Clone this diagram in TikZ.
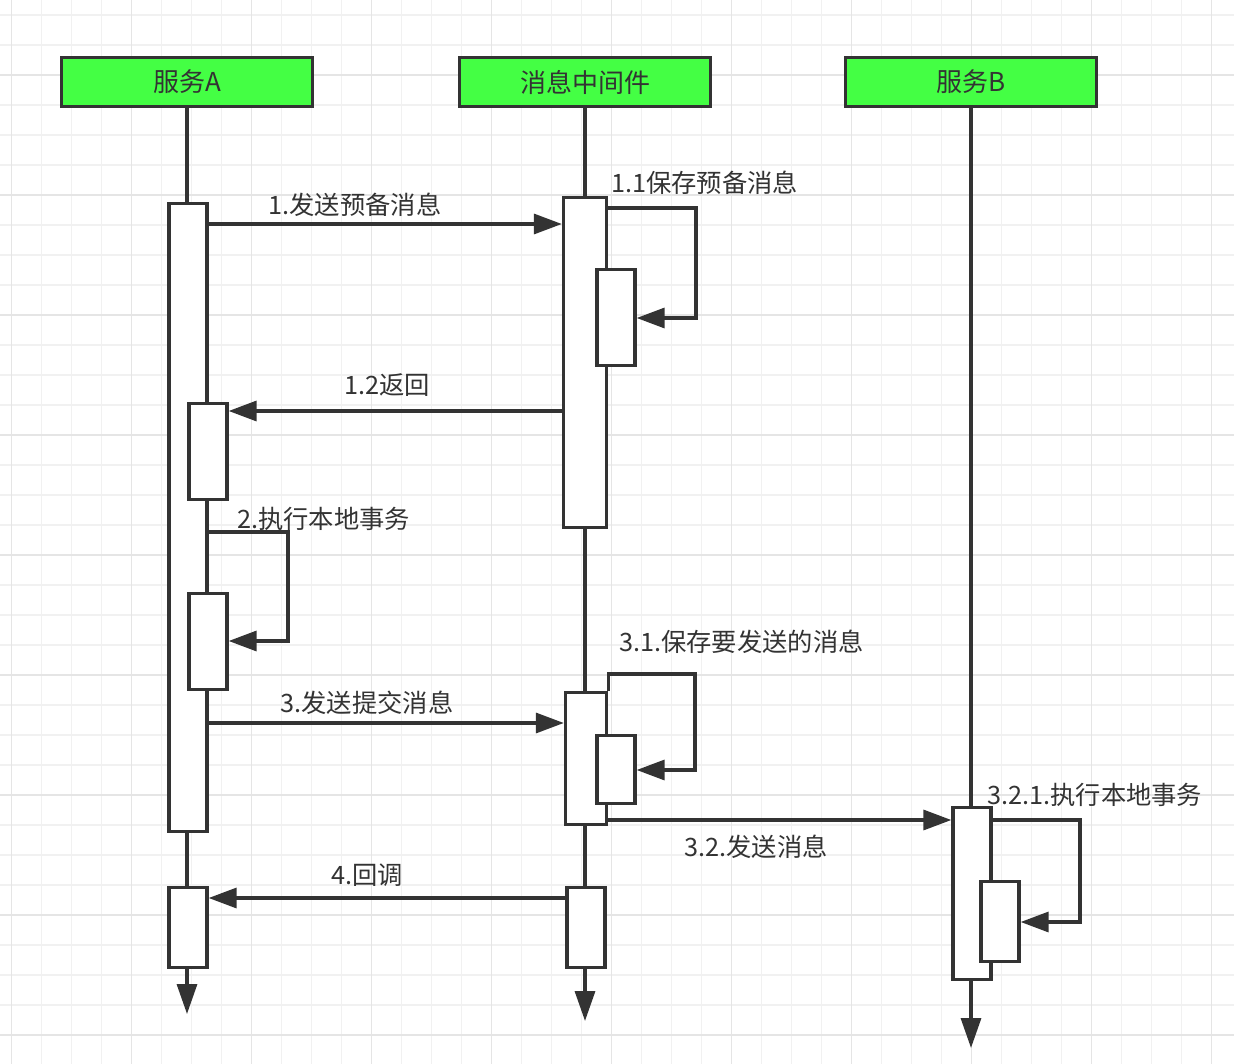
\documentclass[tikz,border=0pt]{standalone}
\usepackage{fontspec}
\newfontfamily\cjk{Noto Sans CJK SC}
\usetikzlibrary{arrows.meta}
\definecolor{ink}{HTML}{333333}
\definecolor{hdr}{HTML}{44FF44}
\definecolor{gridminor}{HTML}{F1F1F1}
\definecolor{gridmajor}{HTML}{E5E5E5}
\begin{document}
\begin{tikzpicture}[x=1pt,y=-1pt,
 hdrbox/.style={draw=ink, line width=3.5pt, fill=hdr, minimum width=251pt, minimum height=49pt, inner sep=0pt, font=\cjk\fontsize{26}{30}\selectfont, text=ink},
 act/.style={draw=ink, line width=3.3pt, fill=white, inner sep=0pt, minimum width=38pt},
 life/.style={draw=ink, line width=3.3pt, -{Triangle[length=30pt,width=20pt]}},
 msg/.style={draw=ink, line width=3.3pt, line join=miter, -{Triangle[length=28pt,width=20pt]}},
 lbl/.style={font=\cjk\fontsize{25.3}{30}\selectfont, text=ink, inner sep=0pt}
]
\fill[white] (0,0) rectangle (1234,1064);
\useasboundingbox (0,0) rectangle (1234,1064);
% grid
\foreach \x in {11.7,41.7,...,1234} \draw[gridminor, line width=1.5pt] (\x,0) -- (\x,1064);
\foreach \y in {15,45,...,1064} \draw[gridminor, line width=1.5pt] (0,\y) -- (1234,\y);
\foreach \x in {11.7,131.7,...,1234} \draw[gridmajor, line width=1.5pt] (\x,0) -- (\x,1064);
\foreach \y in {75,195,...,1064} \draw[gridmajor, line width=1.5pt] (0,\y) -- (1234,\y);

% headers
\node[hdrbox] (hA) at (187,82) {服务A};
\node[hdrbox] (hM) at (585,82) {消息中间件};
\node[hdrbox] (hB) at (971,82) {服务B};

% lifelines
\coordinate (eA) at (187,1014);
\coordinate (eM) at (585,1021);
\coordinate (eB) at (971,1048);
\draw[life] (hA.south) -- (eA);
\draw[life] (hM.south) -- (eM);
\draw[life] (hB.south) -- (eB);

% activation boxes
\node[act, minimum height=628pt] (A1) at (188,517.5) {};
\node[act, minimum height=96pt] (A2) at (208,451.5) {};
\node[act, minimum height=96pt] (A3) at (208,641.5) {};
\node[act, minimum height=80pt] (A4) at (188,927.5) {};
\node[act, minimum width=43pt, minimum height=330pt] (M1) at (585,362.5) {};
\node[act, minimum height=96pt] (M2) at (616,317.5) {};
\node[act, minimum width=41pt, minimum height=132pt] (M3) at (586,758.5) {};
\node[act, minimum height=68pt] (M4) at (616,769.5) {};
\node[act, minimum height=80pt] (M5) at (586,927.5) {};
\node[act, minimum height=172pt] (B1) at (972,893.5) {};
\node[act, minimum height=80pt] (B2) at (1000,921.5) {};

% messages
\draw[msg] (A1.east |- 0,224) -- (M1.west |- 0,224);
\draw[msg] (M1.east |- 0,208) -- (696,208) -- (696,318) -- (M2.east |- 0,318);
\draw[msg] (M1.west |- 0,411) -- (A2.east |- 0,411);
\draw[msg] (A1.east |- 0,532) -- (288,532) -- (288,641) -- (A3.east |- 0,641);
\draw[msg] (A1.east |- 0,723) -- (M3.west |- 0,723);
\draw[msg] (M3.north east) -- (M3.east |- 0,674) -- (695,674) -- (695,770) -- (M4.east |- 0,770);
\draw[msg] (M3.east |- 0,820) -- (B1.west |- 0,820);
\draw[msg] (B1.east |- 0,820) -- (1080,820) -- (1080,922) -- (B2.east |- 0,922);
\draw[msg] (M5.west |- 0,898) -- (A4.east |- 0,898);

% labels
\node[lbl] (t1) at (355,205) {1.发送预备消息};
\node[lbl, anchor=west] (t11) at (611,183) {1.1保存预备消息};
\node[lbl] (t12) at (387,385) {1.2返回};
\node[lbl, anchor=west] (t2) at (237,519) {2.执行本地事务};
\node[lbl] (t3) at (367,703) {3.发送提交消息};
\node[lbl, anchor=west] (t31) at (619,642) {3.1.保存要发送的消息};
\node[lbl] (t32) at (756,847) {3.2.发送消息};
\node[lbl, anchor=west] (t321) at (987,795) {3.2.1.执行本地事务};
\node[lbl] (t4) at (367,875) {4.回调};
\end{tikzpicture}
\end{document}
